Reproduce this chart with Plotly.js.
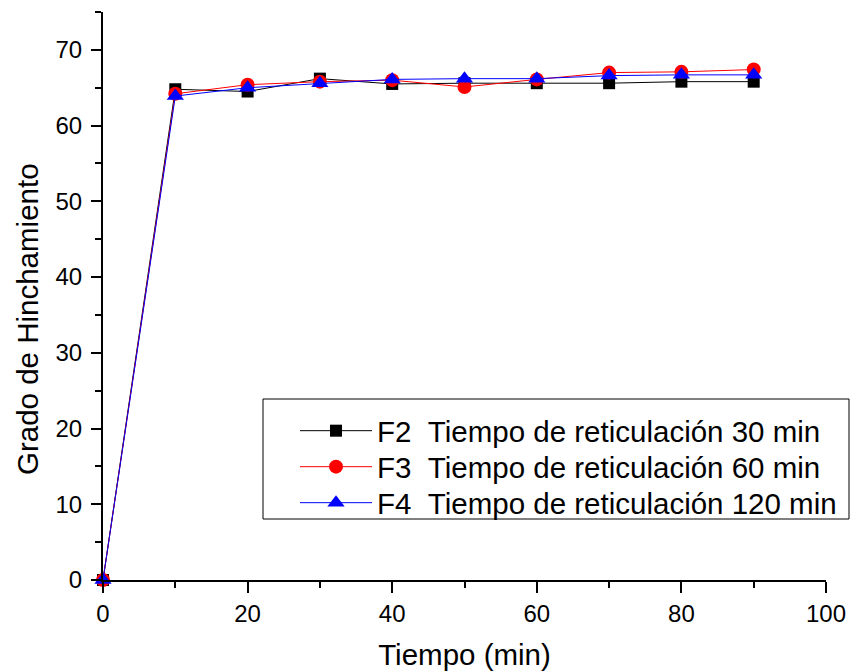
<!DOCTYPE html>
<html>
<head>
<meta charset="utf-8">
<script src="https://cdn.plot.ly/plotly-3.0.1.min.js"></script>
<style>
  html, body { margin: 0; padding: 0; background: #fff; }
  #chart { width: 851px; height: 672px; }
</style>
</head>
<body>
<div id="chart"></div>
<script>
// Tiempo (min)
const tiempo = [0, 10, 20, 30, 40, 50, 60, 70, 80, 90];

// Grado de hinchamiento por formulación
const f2 = [0, 64.8, 64.5, 66.2, 65.5, 65.6, 65.6, 65.6, 65.8, 65.8];
const f3 = [0, 64.2, 65.4, 65.8, 66.0, 65.1, 66.1, 67.0, 67.1, 67.4];
const f4 = [0, 63.9, 65.0, 65.6, 66.1, 66.2, 66.2, 66.6, 66.7, 66.7];

const names = [
  'F2\u00a0\u00a0Tiempo de reticulación 30 min',
  'F3\u00a0\u00a0Tiempo de reticulación 60 min',
  'F4\u00a0\u00a0Tiempo de reticulación 120 min'
];

const FONT = 'Liberation Sans, Arial, sans-serif';
const TITLE_SIZE = 29.5;
const TICK_SIZE = 24;

const W = 851, H = 672;
// plot area in pixels, used to place legend rows and the legend frame in paper units
const PL = 103, PR = 826, PT = 12, PB = 580;
const px = v => (v - PL) / (PR - PL);
const py = v => (PB - v) / (PB - PT);

function serie(y, name, color, symbol, size, legendId) {
  return {
    x: tiempo, y: y, name: name, type: 'scatter', mode: 'lines+markers',
    legend: legendId,
    line: { color: color, width: 1 },
    marker: { color: color, symbol: symbol, size: size, line: { width: 0 } },
    cliponaxis: false
  };
}

const data = [
  serie(f2, names[0], '#000000', 'square', 12, 'legend'),
  serie(f3, names[1], '#ff0000', 'circle', 14, 'legend2'),
  serie(f4, names[2], '#0000ff', 'triangle-up', 15, 'legend3')
];

// one legend per row so the row spacing can be set exactly
function legendRow(yPix) {
  return {
    x: px(295), xanchor: 'left',
    y: py(yPix), yanchor: 'middle',
    bgcolor: 'rgba(0,0,0,0)', borderwidth: 0,
    font: { family: FONT, size: TITLE_SIZE, color: '#000' },
    itemwidth: 72
  };
}

const axisCommon = {
  showgrid: false, zeroline: false, showline: true,
  linecolor: '#000', linewidth: 2,
  ticks: 'outside', tickcolor: '#000', tickwidth: 2,
  tickfont: { family: FONT, size: TICK_SIZE, color: '#000' }
};

const layout = {
  width: W, height: H,
  margin: { l: PL, r: W - PR, t: PT, b: H - PB, autoexpand: false },
  paper_bgcolor: '#fff', plot_bgcolor: '#fff',
  font: { family: FONT, color: '#000' },
  showlegend: true,
  legend: legendRow(431),
  legend2: legendRow(467),
  legend3: legendRow(503),
  shapes: [{
    type: 'rect', xref: 'paper', yref: 'paper',
    x0: px(263), x1: px(849), y0: py(519), y1: py(399),
    line: { color: '#000', width: 1 }, fillcolor: 'rgba(0,0,0,0)'
  }],
  annotations: [{
    text: 'Grado de Hinchamiento', textangle: -90,
    xref: 'paper', yref: 'paper',
    x: px(27), y: py(319), xanchor: 'center', yanchor: 'middle',
    showarrow: false,
    font: { family: FONT, size: TITLE_SIZE, color: '#000' }
  }],
  xaxis: Object.assign({}, axisCommon, {
    range: [0, 100], dtick: 20, tick0: 0, ticklen: 11,
    minor: { dtick: 10, ticklen: 6, ticks: 'outside', tickcolor: '#000', tickwidth: 2 },
    title: { text: 'Tiempo (min)', font: { family: FONT, size: TITLE_SIZE, color: '#000' }, standoff: 19 }
  }),
  yaxis: Object.assign({}, axisCommon, {
    range: [0, 75], dtick: 10, tick0: 0, ticklen: 10,
    ticklabelstandoff: 4,
    minor: { dtick: 5, ticklen: 6, ticks: 'outside', tickcolor: '#000', tickwidth: 2 }
  })
};

Plotly.newPlot('chart', data, layout, { staticPlot: true, displayModeBar: false });
</script>
</body>
</html>
